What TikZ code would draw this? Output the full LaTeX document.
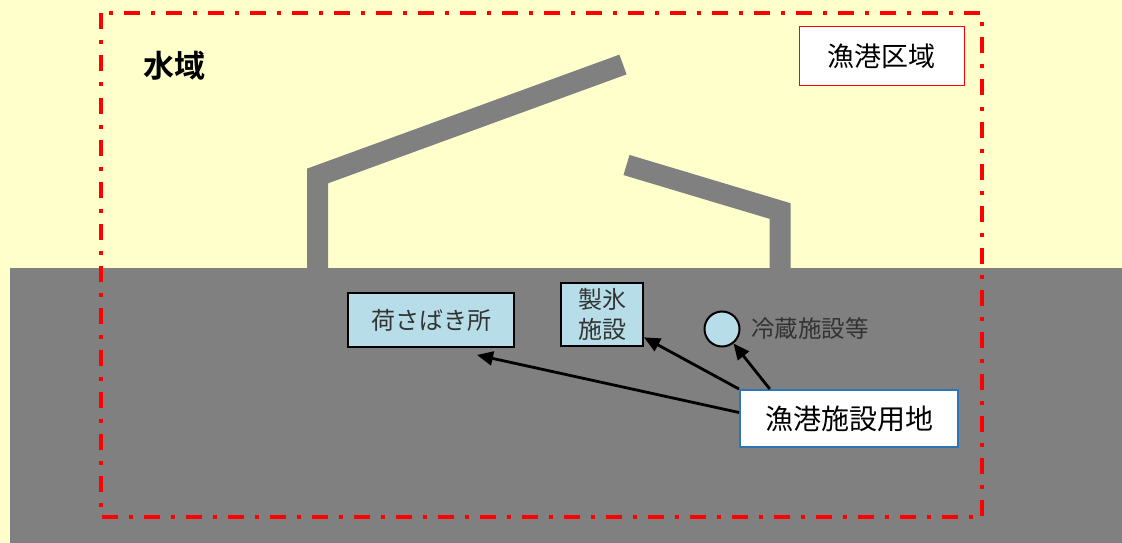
\documentclass[tikz,border=0pt]{standalone}
\usepackage{fontspec}
\newfontfamily\jp[BoldFont={Noto Sans CJK JP Bold}]{Noto Sans CJK JP}
\usetikzlibrary{calc,arrows.meta}

\definecolor{seayellow}{HTML}{FFFFCC}
\definecolor{landgray}{HTML}{808080}
\definecolor{facblue}{HTML}{B7DEE8}
\definecolor{borderblue}{HTML}{2E75B6}

\tikzset{
  facility/.style={draw=black, line width=2pt, fill=facblue, inner sep=0pt, text=black!80, align=center, font=\jp\fontsize{24}{30}\selectfont},
  arr/.style={-{Triangle[length=16pt,width=14pt]}, line width=2.8pt},
  pier/.style={draw=landgray, line width=21pt}
}

\begin{document}
\begin{tikzpicture}[x=1pt,y=-1pt]
\fill[seayellow] (0,0) rectangle (1122,543);
\useasboundingbox (0,0) rectangle (1122,543);
\fill[landgray] (10,268) rectangle (1122,543);

\draw[pier] (317.5,275) -- (317.5,176) -- (623,64.5);
\draw[pier] (626.5,165) -- (780,211) -- (780,275);

\draw[red, line width=4pt, dash pattern=on 16pt off 11pt on 4pt off 11pt] (101,13.5) rectangle (982,517);

\node[font=\jp\bfseries\fontsize{31}{32}\selectfont] (suiiki) at (174,66) {水域};
\node[draw=red, fill=white, line width=1pt, minimum width=165pt, minimum height=59pt, font=\jp\fontsize{27}{30}\selectfont] (gyoko) at (881.5,56.5) {漁港区域};

\node[facility, minimum width=166pt, minimum height=54pt] (nisabaki) at (431,320) {荷さばき所};
\node[facility, minimum width=82pt, minimum height=63pt] (seihyo) at (602,314.5) {製氷\\施設};
\node[facility, circle, minimum size=35pt] (reizou) at (722,329) {};
\node[anchor=west, inner sep=0pt, text=black!80, font=\jp\fontsize{23.5}{30}\selectfont] (reizoutxt) at (751,329) {冷蔵施設等};
\node[draw=borderblue, fill=white, line width=2pt, minimum width=218pt, minimum height=57pt, font=\jp\fontsize{28}{30}\selectfont] (youchi) at (849,418.5) {漁港施設用地};

\coordinate (nTip) at (477,355);
\draw[arr] ($(youchi.west)+(0,-6)$) -- (nTip);
\draw[arr] (youchi.north west) -- (seihyo);
\draw[arr] ($(youchi.north west)!0.14!(youchi.north east)$) -- (reizou);
\end{tikzpicture}
\end{document}
